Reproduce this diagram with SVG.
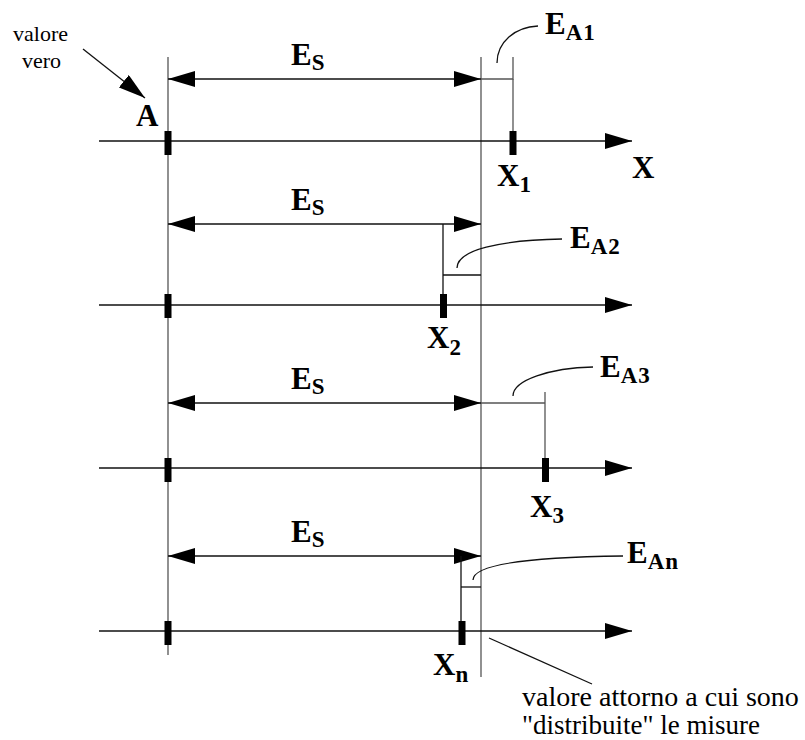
<svg xmlns="http://www.w3.org/2000/svg" width="805" height="740" viewBox="0 0 805 740">
<defs>
<marker id="ah" markerUnits="userSpaceOnUse" markerWidth="28" markerHeight="16" refX="27" refY="8" orient="auto-start-reverse" viewBox="0 0 28 16">
<path d="M0,0 L27,8 L0,16 z" fill="#000"/>
</marker>
</defs>
<style>
.ln{stroke:#111;stroke-width:1.3;fill:none}
.vl{stroke:#555;stroke-width:1.3;fill:none}
.ax{stroke:#111;stroke-width:1.3;fill:none;marker-end:url(#ah)}
.dm{stroke:#111;stroke-width:1.3;fill:none;marker-start:url(#ah);marker-end:url(#ah)}
.tk{fill:#000}
.lb{font-weight:bold;font-size:31px;fill:#000}
.sb{font-size:23px;letter-spacing:1px}
.tx{fill:#000}
</style>
<rect width="805" height="740" fill="#fff"/>

<g id="reference-lines">
<line class="vl" x1="168" y1="57" x2="168" y2="655"/>
<line class="vl" x1="481" y1="57" x2="481" y2="677"/>
</g>

<g id="connectors">
<line class="ax" x1="99" y1="141" x2="632" y2="141"/>
<line class="ax" x1="99" y1="305" x2="632" y2="305"/>
<line class="ax" x1="99" y1="468" x2="632" y2="468"/>
<line class="ax" x1="99" y1="631" x2="632" y2="631"/>
<line class="dm" x1="168" y1="79" x2="481" y2="79"/>
<line class="dm" x1="168" y1="224" x2="481" y2="224"/>
<line class="dm" x1="168" y1="403" x2="481" y2="403"/>
<line class="dm" x1="168" y1="556" x2="481" y2="556"/>
<line class="ln" x1="83" y1="49" x2="145" y2="98" style="marker-end:url(#ah)"/>
<line class="ln" x1="489" y1="638" x2="592" y2="684"/>
</g>

<g font-family="'Liberation Serif', 'DejaVu Serif', 'Times New Roman', serif">
<g id="row1">
<rect class="tk" x="164.5" y="131" width="7" height="24"/>
<rect class="tk" x="509.5" y="131" width="7" height="24"/>
<polyline class="vl" points="481,79 513,79 513,57"/>
<line class="vl" x1="513" y1="79" x2="513" y2="131"/>
<path class="ln" d="M497,63 C497,42 515,27 538,26"/>
<text class="lb" x="291" y="65">E<tspan class="sb" dy="5">S</tspan></text>
<text class="lb" x="545" y="34">E<tspan class="sb" dy="6">A1</tspan></text>
<text class="lb" x="136" y="126">A</text>
<text class="lb" x="497" y="186">X<tspan class="sb" dy="6">1</tspan></text>
<text class="lb" x="632" y="178">X</text>
</g>

<g id="row2">
<rect class="tk" x="164.5" y="294" width="7" height="24"/>
<rect class="tk" x="440" y="294" width="7" height="24"/>
<polyline class="ln" points="443,224 443,294"/>
<line class="ln" x1="443" y1="275" x2="481" y2="275"/>
<path class="ln" d="M457,268 C457,250 500,240 562,239"/>
<text class="lb" x="291" y="210">E<tspan class="sb" dy="5">S</tspan></text>
<text class="lb" x="570" y="248">E<tspan class="sb" dy="6">A2</tspan></text>
<text class="lb" x="427" y="348">X<tspan class="sb" dy="7">2</tspan></text>
</g>

<g id="row3">
<rect class="tk" x="164.5" y="458" width="7" height="24"/>
<rect class="tk" x="542" y="458" width="7" height="24"/>
<line class="vl" x1="481" y1="403" x2="545" y2="403"/>
<line class="vl" x1="545" y1="392" x2="545" y2="458"/>
<path class="ln" d="M513,396 C513,380 550,368 593,367"/>
<text class="lb" x="291" y="389">E<tspan class="sb" dy="5">S</tspan></text>
<text class="lb" x="600" y="377">E<tspan class="sb" dy="6">A3</tspan></text>
<text class="lb" x="530" y="517">X<tspan class="sb" dy="6">3</tspan></text>
</g>

<g id="row4">
<rect class="tk" x="164.5" y="621" width="7" height="24"/>
<rect class="tk" x="458.5" y="621" width="7" height="24"/>
<line class="ln" x1="461" y1="556" x2="461" y2="621"/>
<line class="ln" x1="461" y1="587" x2="481" y2="587"/>
<path class="ln" d="M473,580 C473,563 540,557 623,556"/>
<text class="lb" x="291" y="542">E<tspan class="sb" dy="5">S</tspan></text>
<text class="lb" x="627" y="563">E<tspan class="sb" dy="6">An</tspan></text>
<text class="lb" x="433" y="675">X<tspan class="sb" dy="7">n</tspan></text>
</g>

<g id="notes">
<text class="tx" x="13" y="41" font-size="22">valore</text>
<text class="tx" x="22" y="68" font-size="22">vero</text>
<text class="tx" x="522" y="706" font-size="28">valore attorno a cui sono</text>
<text class="tx" x="522" y="734" font-size="27">"distribuite" le misure</text>
</g>
</g>
</svg>
